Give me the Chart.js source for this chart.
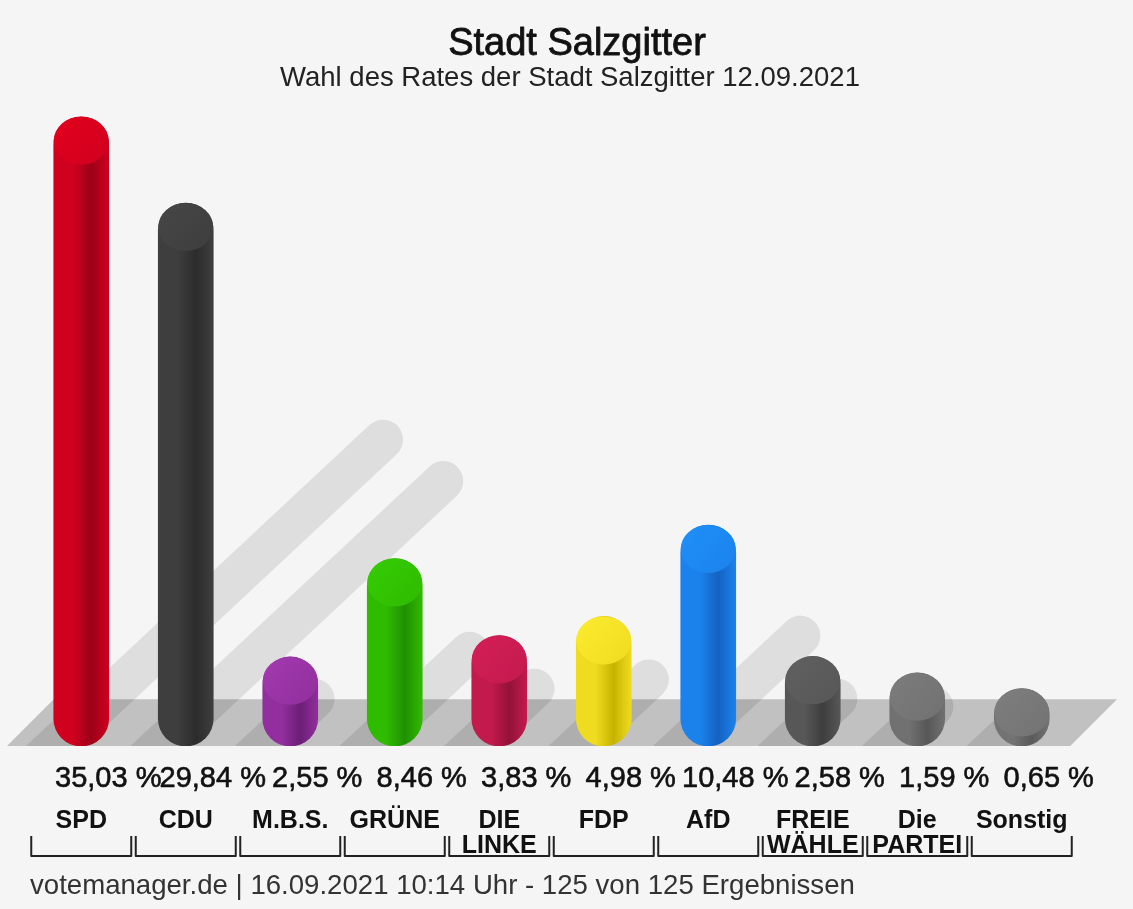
<!DOCTYPE html>
<html>
<head>
<meta charset="utf-8">
<title>Stadt Salzgitter</title>
<script src="https://cdn.jsdelivr.net/npm/chart.js@4.4.0/dist/chart.umd.min.js"></script>
<style>
  html, body { margin: 0; padding: 0; background: #f5f5f5; }
  #wrap { width: 1133px; height: 909px; }
</style>
</head>
<body>
<div id="wrap"><canvas id="chart" width="1133" height="909"></canvas></div>
<script>
const parties = ['SPD', 'CDU', 'M.B.S.', 'GRÜNE', 'DIE LINKE', 'FDP', 'AfD', 'FREIE WÄHLER', 'Die PARTEI', 'Sonstige'];
const shares = [35.03, 29.84, 2.55, 8.46, 3.83, 4.98, 10.48, 2.58, 1.59, 0.65];
const titleText = 'Stadt Salzgitter';
const subtitleText = 'Wahl des Rates der Stadt Salzgitter 12.09.2021';
const footerText = 'votemanager.de | 16.09.2021 10:14 Uhr - 125 von 125 Ergebnissen';

// top cap, lit side, shaded side of each cylinder
const capColors   = ['#e2001c', '#464646', '#a23bae', '#36cc05', '#d41f57', '#fdeb2e', '#1f8ff8', '#606060', '#7c7c7c', '#7e7e7e'];
const bodyColors  = ['#d0001f', '#3e3e3e', '#922e9e', '#2fbb00', '#c31a4e', '#efdc20', '#1b82ec', '#575757', '#717171', '#737373'];
const shadeColors = ['#9c0018', '#2c2c2c', '#6c1f76', '#1f9000', '#931238', '#c6b300', '#1462c2', '#3e3e3e', '#575757', '#5a5a5a'];

const Y_MIN = -2.81;   // cylinders reach below zero onto the floor
const Y_MAX = 36;
const BAR_W = 55;
const FONT = '"Liberation Sans", Arial, sans-serif';

const fmt = v => v.toFixed(2).replace('.', ',') + ' %';

// names that do not fit the bracket lose letters at the end
function fitText(ctx, s, maxW) {
  while (s.length > 1 && ctx.measureText(s).width > maxW) s = s.slice(0, -1);
  return s;
}

// text drawn a little heavier, like the original rendering
function heavyText(ctx, s, x, y, w) {
  ctx.lineWidth = w;
  ctx.strokeStyle = ctx.fillStyle;
  ctx.strokeText(s, x, y);
  ctx.fillText(s, x, y);
}

const scenery = {
  id: 'scenery',
  beforeDraw(chart) {
    const { ctx, width, height } = chart;
    ctx.save();
    ctx.fillStyle = '#f5f5f5';
    ctx.fillRect(0, 0, width, height);
    ctx.restore();
  },
  beforeDatasetsDraw(chart) {
    const { ctx, chartArea: area, scales: { y } } = chart;
    const y0 = y.getPixelForValue(0);
    const yb = area.bottom;
    const d = yb - y0;
    // floor slab
    ctx.save();
    ctx.fillStyle = '#c1c1c1';
    ctx.beginPath();
    ctx.moveTo(area.left - 22, yb);
    ctx.lineTo(area.left - 22 + d, y0);
    ctx.lineTo(area.right + 43, y0);
    ctx.lineTo(area.right + 43 - d, yb);
    ctx.closePath();
    ctx.fill();
    // cast shadows, slanting to the back right
    ctx.beginPath();
    ctx.rect(0, 0, chart.width, yb);
    ctx.clip();
    ctx.strokeStyle = 'rgba(0,0,0,0.095)';
    ctx.lineCap = 'round';
    ctx.lineWidth = 40;
    chart.getDatasetMeta(0).data.forEach(bar => {
      const len = (y0 - bar.y) * 0.48;
      const sx = bar.x - 26;
      const ey = y0 - len + 20;
      ctx.beginPath();
      ctx.moveTo(sx - 20 * 1.07, yb + 20);
      ctx.lineTo(sx + (yb - ey) * 1.07, ey);
      ctx.stroke();
    });
    ctx.restore();
  },
  afterDatasetsDraw(chart) {
    const { ctx } = chart;
    ctx.save();
    chart.getDatasetMeta(0).data.forEach((bar, i) => {
      const rx = bar.width / 2, ry = 24;
      const g = ctx.createLinearGradient(bar.x - rx, bar.y, bar.x + rx, bar.y + 2 * ry);
      g.addColorStop(0, capColors[i]);
      g.addColorStop(1, bodyColors[i]);
      ctx.fillStyle = g;
      ctx.beginPath();
      ctx.ellipse(bar.x, bar.y + ry, rx, ry, 0, 0, Math.PI * 2);
      ctx.fill();
    });
    ctx.restore();
  },
  afterDraw(chart) {
    const { ctx, scales: { x } } = chart;
    ctx.save();
    ctx.fillStyle = '#111';
    ctx.textAlign = 'center';
    ctx.textBaseline = 'alphabetic';
    ctx.lineJoin = 'round';
    ctx.font = '38px ' + FONT;
    heavyText(ctx, titleText, 577, 55, 0.8);
    ctx.font = '27.5px ' + FONT;
    ctx.fillStyle = '#222';
    ctx.fillText(subtitleText, 570, 86);

    // value labels
    ctx.fillStyle = '#111';
    ctx.font = '29px ' + FONT;
    chart.getDatasetMeta(0).data.forEach((bar, i) => {
      heavyText(ctx, fmt(shares[i]), bar.x + 27, 787, 0.6);
    });

    // party names with brackets
    ctx.font = 'bold 25px ' + FONT;
    parties.forEach((name, i) => {
      const cx = x.getPixelForValue(i);
      const l = cx - 50, r = cx + 50;
      ctx.strokeStyle = '#222';
      ctx.lineWidth = 2;
      ctx.beginPath();
      ctx.moveTo(l, 836); ctx.lineTo(l, 856); ctx.lineTo(r, 856); ctx.lineTo(r, 836);
      ctx.stroke();
      ctx.fillStyle = '#111';
      name.split(' ').forEach((line, j) => {
        ctx.fillText(fitText(ctx, line, 96), cx, 828 + j * 25);
      });
    });

    ctx.textAlign = 'left';
    ctx.fillStyle = '#333';
    ctx.font = '27.6px ' + FONT;
    ctx.fillText(footerText, 30, 894);
    ctx.restore();
  }
};

new Chart(document.getElementById('chart'), {
  type: 'bar',
  data: {
    labels: parties,
    datasets: [{
      data: shares,
      base: Y_MIN,
      barThickness: BAR_W,
      borderRadius: BAR_W / 2,
      borderSkipped: false,
      borderWidth: 0,
      backgroundColor: c => {
        const i = c.dataIndex;
        const { chart } = c;
        if (!chart.chartArea || !chart.scales.x) return bodyColors[i];
        const cx = chart.scales.x.getPixelForValue(i);
        const g = chart.ctx.createLinearGradient(cx - BAR_W / 2, 0, cx + BAR_W / 2, 0);
        g.addColorStop(0, bodyColors[i]);
        g.addColorStop(0.35, bodyColors[i]);
        g.addColorStop(0.68, shadeColors[i]);
        g.addColorStop(1, bodyColors[i]);
        return g;
      }
    }]
  },
  options: {
    responsive: false,
    animation: false,
    events: [],
    layout: { padding: { left: 29, right: 59, top: 100.6, bottom: 163 } },
    scales: {
      x: { display: false },
      y: { display: false, min: Y_MIN, max: Y_MAX }
    },
    plugins: {
      legend: { display: false },
      tooltip: { enabled: false },
      title: { display: false }
    }
  },
  plugins: [scenery]
});
</script>
</body>
</html>
